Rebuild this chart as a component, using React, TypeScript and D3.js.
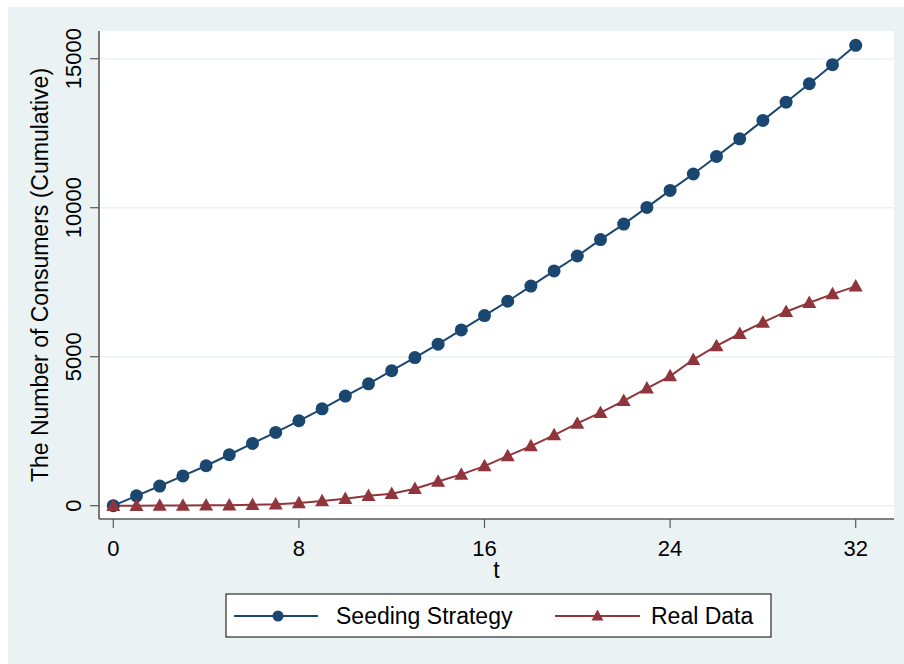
import React from "react";
import * as d3 from "d3";

const tValues = d3.range(0, 33);
const seedingStrategy = [
  0, 330, 660, 1000, 1340, 1710, 2090, 2460, 2850, 3250, 3680, 4090, 4530, 4970, 5420, 5900,
  6380, 6860, 7370, 7880, 8380, 8930, 9450, 10010, 10580, 11130, 11720, 12310, 12930, 13540,
  14160, 14800, 15450,
];
const realData = [
  0, 2, 5, 8, 12, 18, 28, 50, 90, 160, 230, 330, 400, 570, 810, 1050, 1330, 1670, 2000, 2370,
  2760, 3120, 3520, 3940, 4350, 4900, 5360, 5770, 6150, 6510, 6810, 7100, 7360,
];
const xTicks = [0, 8, 16, 24, 32];
const yTicks = [0, 5000, 10000, 15000];
const seriesNames = ["Seeding Strategy", "Real Data"];
const yTitle = "The Number of Consumers (Cumulative)";
const xTitle = "t";

const W = 904;
const H = 664;
const BG = "#eaf2f3";
const NAVY = "#1a476f";
const MAROON = "#90353b";
const AXIS = "#595959";
const FONT = "Arial, 'Liberation Sans', Helvetica, sans-serif";

const plot = { left: 99, right: 894, top: 31, bottom: 519 };

export default function App() {
  const x = d3.scaleLinear().domain([0, 32]).range([113.3, 855.7]);
  const y = d3.scaleLinear().domain([0, 15000]).range([505.7, 58.7]);

  const line = d3
    .line<number>()
    .x((_, i) => x(tValues[i]))
    .y((d) => y(d));

  const tri = (cx: number, cy: number, w: number, h: number) =>
    `M${cx - w / 2},${cy + h / 2}L${cx + w / 2},${cy + h / 2}L${cx},${cy - h / 2}Z`;

  const legendY = 616;

  return (
    <svg
      width={W - 8}
      height={H - 7}
      style={{ position: "absolute", left: 8, top: 7, display: "block" }}
      fontFamily={FONT}
    >
      <g transform="translate(-8,-7)">
        <rect x={8} y={7} width={W - 8} height={H - 7} fill={BG} />
        <rect
          x={plot.left}
          y={plot.top}
          width={plot.right - plot.left}
          height={plot.bottom - plot.top}
          fill="#ffffff"
        />
        {yTicks.map((t) => (
          <line
            key={"g" + t}
            x1={plot.left}
            x2={plot.right}
            y1={y(t)}
            y2={y(t)}
            stroke={BG}
            strokeWidth={1.6}
          />
        ))}
        {/* axes */}
        <line x1={plot.left} x2={plot.left} y1={plot.top} y2={plot.bottom} stroke={AXIS} strokeWidth={1.6} />
        <line x1={plot.left} x2={plot.right} y1={plot.bottom} y2={plot.bottom} stroke={AXIS} strokeWidth={1.6} />
        {yTicks.map((t) => (
          <g key={"yt" + t}>
            <line x1={plot.left - 9} x2={plot.left} y1={y(t)} y2={y(t)} stroke={AXIS} strokeWidth={1.2} />
            <text
              transform={`translate(80.5,${y(t)}) rotate(-90)`}
              textAnchor="middle"
              fontSize={22}
              fill="#000"
            >
              {t}
            </text>
          </g>
        ))}
        {xTicks.map((t) => (
          <g key={"xt" + t}>
            <line x1={x(t)} x2={x(t)} y1={plot.bottom} y2={plot.bottom + 9} stroke={AXIS} strokeWidth={1.2} />
            <text x={x(t)} y={555.5} textAnchor="middle" fontSize={22} fill="#000">
              {t}
            </text>
          </g>
        ))}
        <text
          transform={`translate(48,${(plot.top + plot.bottom) / 2}) rotate(-90)`}
          textAnchor="middle"
          fontSize={23}
          fill="#000"
        >
          {yTitle}
        </text>
        <text x={(plot.left + plot.right) / 2} y={578} textAnchor="middle" fontSize={23} fill="#000">
          {xTitle}
        </text>

        {/* series */}
        <path d={line(seedingStrategy) || ""} fill="none" stroke={NAVY} strokeWidth={2} />
        <path d={line(realData) || ""} fill="none" stroke={MAROON} strokeWidth={2} />
        {seedingStrategy.map((v, i) => (
          <circle key={"c" + i} cx={x(tValues[i])} cy={y(v)} r={6.5} fill={NAVY} />
        ))}
        {realData.map((v, i) => (
          <path key={"t" + i} d={tri(x(tValues[i]), y(v) - 1, 14, 12.5)} fill={MAROON} />
        ))}

        {/* legend */}
        <rect x={226} y={594} width={545} height={43} fill="#ffffff" stroke="#000" strokeWidth={1} />
        <line x1={234} x2={318} y1={legendY} y2={legendY} stroke={NAVY} strokeWidth={2} />
        <circle cx={278} cy={legendY} r={5.5} fill={NAVY} />
        <text x={336} y={legendY + 8} fontSize={23} fill="#000">
          {seriesNames[0]}
        </text>
        <line x1={555} x2={640} y1={legendY} y2={legendY} stroke={MAROON} strokeWidth={2} />
        <path d={tri(597.5, legendY - 1, 12, 11)} fill={MAROON} />
        <text x={651} y={legendY + 8} fontSize={23} fill="#000">
          {seriesNames[1]}
        </text>
      </g>
    </svg>
  );
}
